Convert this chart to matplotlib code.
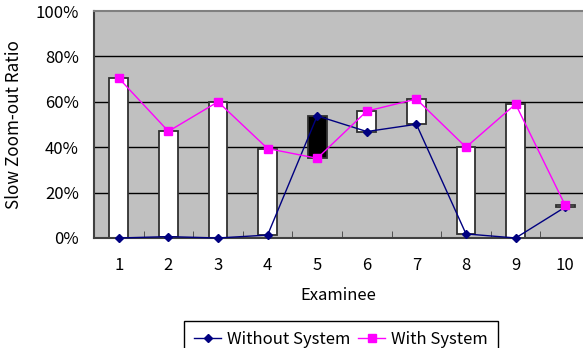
import numpy as np
import matplotlib
matplotlib.use("Agg")
from matplotlib import pyplot as plt

plt.rcParams['font.family'] = ['Noto Sans CJK JP', 'DejaVu Sans']

# Data
examinees = [1, 2, 3, 4, 5, 6, 7, 8, 9, 10]
without_system = [0.0, 0.6, 0.0, 1.3, 53.8, 46.9, 50.1, 1.8, 0.0, 13.6]
with_system = [70.4, 47.0, 60.0, 39.4, 35.1, 55.9, 61.2, 40.0, 59.0, 14.4]

x = np.array(examinees)
wo = np.array(without_system) / 100
wi = np.array(with_system) / 100

fig = plt.figure(figsize=(5.83, 3.48), dpi=100, facecolor='white')
ax = fig.add_axes([94/583, 1-238/348, 489/583, 227/348])
ax.set_facecolor('#C0C0C0')

# gridlines
for v in [0.2, 0.4, 0.6, 0.8]:
    ax.axhline(v, color='black', lw=1, zorder=1)

# up/down bars
lo = np.minimum(wo, wi)
hi = np.maximum(wo, wi)
bar_colors = ['white' if b >= a else 'black' for a, b in zip(wo, wi)]
ax.bar(x, hi - lo, bottom=lo, width=0.38, color=bar_colors,
       edgecolor='#303030', lw=1.3, zorder=2)

ax.plot(x, wo, color='#000080', lw=1, marker='D', ms=4.5,
        label='Without System', zorder=3, clip_on=False)
ax.plot(x, wi, color='#FF00FF', lw=1, marker='s', ms=5.5,
        label='With System', zorder=3, clip_on=False)

ax.set_xlim(0.5, 0.5 + 489/49.6)
ax.set_ylim(0, 1)
ax.set_yticks([0, 0.2, 0.4, 0.6, 0.8, 1.0])
ax.set_yticklabels(['0%', '20%', '40%', '60%', '80%', '100%'], fontsize=12)
ax.set_xticks(x)
ax.set_xticklabels([str(e) for e in examinees], fontsize=12)
ax.set_xticks(np.arange(1.5, 10, 1), minor=True)
ax.tick_params(axis='x', which='major', length=0, pad=14)
ax.tick_params(axis='x', which='minor', direction='in', length=5, color='#404040')
ax.tick_params(axis='y', length=0, pad=11)

for side in ['left', 'bottom']:
    ax.spines[side].set_color('#404040')
    ax.spines[side].set_linewidth(1.5)
ax.spines['top'].set_color('#808080')
ax.spines['top'].set_linewidth(1.5)
ax.spines['right'].set_visible(False)

ax.set_xlabel('Examinee', fontsize=12, labelpad=9)
ax.set_ylabel('Slow Zoom-out Ratio', fontsize=12.3, labelpad=9)

leg = fig.legend(loc='upper center', bbox_to_anchor=(341/583, 1-321/348), ncol=2,
                 fontsize=12, frameon=True, fancybox=False, framealpha=1,
                 edgecolor='black', handlelength=1.6, columnspacing=0.5,
                 handletextpad=0.35, borderpad=0.6, borderaxespad=0.0)
leg.get_frame().set_linewidth(1)

fig.savefig('out.png', dpi=100)
